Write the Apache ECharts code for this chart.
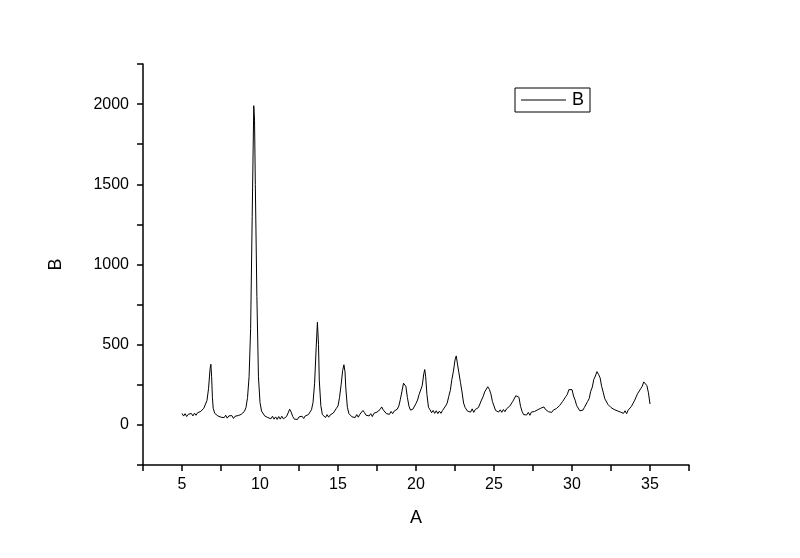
<!DOCTYPE html>
<html>
<head>
<meta charset="utf-8">
<script src="https://cdn.jsdelivr.net/npm/echarts@6/dist/echarts.min.js"></script>
<style>
  html, body { margin: 0; padding: 0; background: #fff; }
  #chart { width: 800px; height: 558px; }
</style>
</head>
<body>
<div id="chart"></div>
<script>
// 2-theta positions (A) and intensities (B)
const angleA = [
  5.0, 5.1, 5.2, 5.3, 5.4, 5.5, 5.6, 5.7, 5.8, 5.9, 6.0, 6.1, 6.2, 6.3, 6.4, 6.5, 6.6, 6.7, 6.8, 6.85, 6.9, 6.95,
  7.0, 7.1, 7.2, 7.3, 7.4, 7.5, 7.6, 7.7, 7.8, 7.9, 8.0, 8.1, 8.2, 8.3, 8.4, 8.5, 8.6, 8.7, 8.8, 8.9,
  9.0, 9.1, 9.2, 9.3, 9.4, 9.5, 9.6, 9.65, 9.7, 9.8, 9.9, 10.0, 10.1, 10.2, 10.3, 10.4, 10.5, 10.6, 10.7, 10.8, 10.9,
  11.0, 11.1, 11.2, 11.3, 11.4, 11.5, 11.6, 11.7, 11.8, 11.9, 12.0, 12.1, 12.2, 12.3, 12.4, 12.5, 12.6, 12.7, 12.8, 12.9,
  13.0, 13.1, 13.2, 13.3, 13.4, 13.5, 13.6, 13.68, 13.75, 13.8, 13.9, 14.0, 14.1, 14.2, 14.3, 14.4, 14.5, 14.6, 14.7, 14.8, 14.9,
  15.0, 15.1, 15.2, 15.3, 15.38, 15.45, 15.5, 15.6, 15.7, 15.8, 15.9, 16.0, 16.1, 16.2, 16.3, 16.4, 16.5, 16.6, 16.7, 16.8, 16.9,
  17.0, 17.1, 17.2, 17.3, 17.4, 17.5, 17.6, 17.7, 17.8, 17.9, 18.0, 18.1, 18.2, 18.3, 18.4, 18.5, 18.6, 18.7, 18.8, 18.9,
  19.0, 19.1, 19.2, 19.28, 19.35, 19.45, 19.55, 19.65, 19.8, 19.9, 20.0, 20.1, 20.2, 20.3, 20.4, 20.5, 20.56, 20.62, 20.7, 20.8, 20.9,
  21.0, 21.1, 21.2, 21.3, 21.4, 21.5, 21.6, 21.7, 21.8, 21.9, 22.0, 22.1, 22.2, 22.3, 22.4, 22.5, 22.58, 22.65, 22.75, 22.85, 22.95,
  23.05, 23.15, 23.3, 23.4, 23.5, 23.6, 23.7, 23.8, 23.9, 24.0, 24.1, 24.2, 24.3, 24.4, 24.5, 24.6, 24.7, 24.8, 24.9,
  25.0, 25.1, 25.2, 25.3, 25.4, 25.5, 25.6, 25.7, 25.8, 25.9, 26.0, 26.1, 26.2, 26.3, 26.4, 26.5, 26.6, 26.7, 26.8, 26.9,
  27.0, 27.1, 27.2, 27.3, 27.4, 27.5, 27.6, 27.7, 27.8, 27.9, 28.0, 28.1, 28.2, 28.3, 28.4, 28.5, 28.6, 28.7, 28.8, 28.9,
  29.0, 29.1, 29.2, 29.3, 29.4, 29.5, 29.6, 29.7, 29.8, 29.9, 30.0, 30.1, 30.2, 30.3, 30.4, 30.5, 30.6, 30.7, 30.8, 30.9,
  31.0, 31.1, 31.2, 31.3, 31.4, 31.5, 31.6, 31.7, 31.8, 31.9, 32.0, 32.1, 32.2, 32.3, 32.4, 32.5, 32.6, 32.7, 32.8, 32.9,
  33.0, 33.1, 33.2, 33.3, 33.4, 33.5, 33.6, 33.7, 33.8, 33.9, 34.0, 34.1, 34.2, 34.3, 34.4, 34.5, 34.6, 34.7, 34.8, 34.9, 35.0
];
const intensityB = [
  72, 55, 70, 52, 66, 54, 71, 56, 73, 60, 76, 66, 84, 82, 104, 112, 152, 225, 350, 378, 300, 170,
  104, 72, 76, 56, 64, 48, 58, 45, 60, 42, 56, 44, 58, 40, 54, 46, 58, 48, 66, 62,
  84, 108, 170, 300, 600, 1300, 1990, 1900, 1500, 800, 300, 140, 86, 74, 56, 62, 46, 52, 38, 54, 36,
  50, 34, 52, 36, 54, 38, 50, 52, 74, 98, 80, 52, 36, 46, 34, 50, 38, 54, 40, 56,
  52, 64, 68, 94, 140, 260, 480, 640, 500, 280, 120, 64, 54, 46, 64, 48, 62, 56, 74, 76, 104,
  118, 172, 250, 340, 375, 330, 230, 110, 70, 66, 50, 60, 46, 64, 48, 66, 68, 90, 76, 60, 70,
  56, 70, 52, 72, 62, 80, 70, 96, 112, 94, 88, 70, 80, 66, 84, 70, 86, 76, 98, 118,
  160, 210, 260, 272, 240, 170, 116, 92, 98, 100, 134, 155, 190, 195, 245, 320, 345, 300, 190, 110, 94,
  76, 90, 72, 88, 70, 86, 72, 90, 88, 118, 136, 178, 215, 284, 335, 405, 430, 385, 325, 265, 205,
  136, 108, 86, 96, 80, 100, 78, 96, 86, 108, 116, 155, 176, 205, 215, 238, 222, 194, 145,
  118, 90, 96, 80, 94, 78, 96, 82, 100, 94, 116, 120, 146, 155, 182, 186, 172, 116, 84, 64,
  74, 62, 78, 60, 80, 68, 84, 74, 94, 88, 104, 98, 112, 96, 100, 82, 94, 78, 92, 84,
  102, 98, 120, 118, 146, 144, 176, 190, 220, 226, 220, 180, 154, 120, 110, 88, 98, 92, 110, 108,
  146, 164, 210, 235, 284, 305, 332, 315, 294, 240, 204, 164, 154, 128, 126, 108, 114, 96, 104, 88,
  96, 80, 90, 72, 88, 70, 92, 90, 114, 120, 150, 160, 194, 196, 225, 240, 268, 278, 245, 200, 130
];
const xLabels = [5, 10, 15, 20, 25, 30, 35];
const yLabels = [0, 500, 1000, 1500, 2000];

const seriesData = angleA.map((a, i) => [a, intensityB[i]]);

const chart = echarts.init(document.getElementById('chart'));
const font = 'Liberation Sans, Arial, sans-serif';
const axisLine = { show: true, onZero: false, lineStyle: { color: '#000', width: 1.5 } };

chart.setOption({
  animation: false,
  backgroundColor: '#fff',
  grid: { left: 143, right: 111, top: 64, bottom: 93, containLabel: false },
  legend: {
    data: [{ name: 'B', icon: 'rect' }],
    left: 515,
    top: 88,
    orient: 'vertical',
    padding: [3, 6, 3, 6],
    itemWidth: 45,
    itemHeight: 1,
    itemGap: 0,
    borderColor: '#000',
    borderWidth: 1,
    borderRadius: 0,
    itemStyle: { color: '#000', borderWidth: 0 },
    textStyle: { color: '#000', fontSize: 18, fontFamily: font, padding: [0, 0, 0, 1], lineHeight: 18 }
  },
  xAxis: {
    type: 'value',
    min: 2.5,
    max: 37.5,
    interval: 2.5,
    name: 'A',
    nameLocation: 'middle',
    nameGap: 44,
    nameTextStyle: { color: '#000', fontSize: 18, fontFamily: font },
    axisLine: axisLine,
    axisTick: { show: true, inside: false, length: 6, lineStyle: { color: '#000', width: 1.5 } },
    axisLabel: {
      color: '#000', fontSize: 16, fontFamily: font, margin: 12,
      formatter: v => (xLabels.includes(v) ? String(v) : '')
    },
    splitLine: { show: false }
  },
  yAxis: {
    type: 'value',
    min: -250,
    max: 2250,
    interval: 250,
    name: 'B',
    nameLocation: 'middle',
    nameGap: 78,
    nameTextStyle: { color: '#000', fontSize: 18, fontFamily: font },
    axisLine: axisLine,
    axisTick: { show: true, inside: false, length: 6, lineStyle: { color: '#000', width: 1.5 } },
    axisLabel: {
      color: '#000', fontSize: 16, fontFamily: font, margin: 14,
      formatter: v => (yLabels.includes(v) ? String(v) : '')
    },
    splitLine: { show: false }
  },
  series: [{
    name: 'B',
    type: 'line',
    data: seriesData,
    symbol: 'none',
    color: '#000',
    lineStyle: { color: '#000', width: 1 }
  }]
});
</script>
</body>
</html>
